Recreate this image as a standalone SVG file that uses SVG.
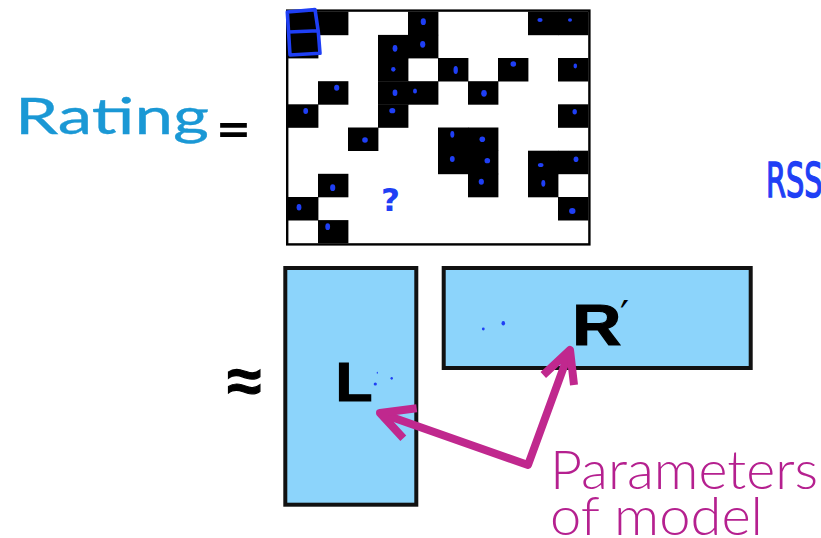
<svg xmlns="http://www.w3.org/2000/svg" width="821" height="538" viewBox="0 0 821 538">
  <style>
    .cell { fill: #000; }
    .pen { fill: #1f3ff5; }
    .penline { fill: none; stroke: #1f3ff5; stroke-width: 3.6; stroke-linecap: round; stroke-linejoin: round; }
    .factor { fill: #8cd4fb; stroke: #111; stroke-width: 4; }
    .arrow { fill: none; stroke: #c0288e; stroke-width: 8; stroke-linejoin: round; stroke-linecap: butt; }
    .sym { font-family: "Liberation Sans", Arial, sans-serif; font-weight: bold; fill: #000; }
    .heavy { stroke: #000; stroke-width: 1.2; }
    .label { font-family: Lato, "Open Sans", sans-serif; }
  </style>
  <rect width="821" height="538" fill="#fff"/>

  <!-- left-hand side label -->
  <g id="rating-label">
    <text class="label" x="15" y="133.5" font-size="50" fill="#1a98d5" stroke="#1a98d5" stroke-width="0.35" textLength="194" lengthAdjust="spacingAndGlyphs">Rating</text>
    <text class="label" x="216" y="147" font-size="52" font-weight="bold" fill="#000" textLength="35" lengthAdjust="spacingAndGlyphs">=</text>
  </g>

  <!-- sparse rating matrix -->
  <g id="rating-matrix">
    <rect x="287.2" y="10.6" width="302.2" height="233.8" fill="#fff"/>
    <!-- row 0 -->
    <rect class="cell" x="288" y="11.7" width="30.4" height="23.5"/>
    <rect class="cell" x="318" y="11.7" width="30.4" height="23.5"/>
    <rect class="cell" x="408" y="11.7" width="30.4" height="23.5"/>
    <rect class="cell" x="528" y="11.7" width="30.4" height="23.5"/>
    <rect class="cell" x="558" y="11.7" width="30.4" height="23.5"/>
    <!-- row 1 -->
    <rect class="cell" x="288" y="34.9" width="30.4" height="23.5"/>
    <rect class="cell" x="378" y="34.9" width="30.4" height="23.5"/>
    <rect class="cell" x="408" y="34.9" width="30.4" height="23.5"/>
    <!-- row 2 -->
    <rect class="cell" x="378" y="58" width="30.4" height="23.5"/>
    <rect class="cell" x="438" y="58" width="30.4" height="23.5"/>
    <rect class="cell" x="498" y="58" width="30.4" height="23.5"/>
    <rect class="cell" x="558" y="58" width="30.4" height="23.5"/>
    <!-- row 3 -->
    <rect class="cell" x="318" y="81.2" width="30.4" height="23.5"/>
    <rect class="cell" x="378" y="81.2" width="30.4" height="23.5"/>
    <rect class="cell" x="408" y="81.2" width="30.4" height="23.5"/>
    <rect class="cell" x="468" y="81.2" width="30.4" height="23.5"/>
    <!-- row 4 -->
    <rect class="cell" x="288" y="104.3" width="30.4" height="23.5"/>
    <rect class="cell" x="378" y="104.3" width="30.4" height="23.5"/>
    <rect class="cell" x="558" y="104.3" width="30.4" height="23.5"/>
    <!-- row 5 -->
    <rect class="cell" x="348" y="127.5" width="30.4" height="23.5"/>
    <rect class="cell" x="438" y="127.5" width="30.4" height="23.5"/>
    <rect class="cell" x="468" y="127.5" width="30.4" height="23.5"/>
    <!-- row 6 -->
    <rect class="cell" x="438" y="150.7" width="30.4" height="23.5"/>
    <rect class="cell" x="468" y="150.7" width="30.4" height="23.5"/>
    <rect class="cell" x="528" y="150.7" width="30.4" height="23.5"/>
    <rect class="cell" x="558" y="150.7" width="30.4" height="23.5"/>
    <!-- row 7 -->
    <rect class="cell" x="318" y="173.8" width="30.4" height="23.5"/>
    <rect class="cell" x="468" y="173.8" width="30.4" height="23.5"/>
    <rect class="cell" x="528" y="173.8" width="30.4" height="23.5"/>
    <!-- row 8 -->
    <rect class="cell" x="288" y="197" width="30.4" height="23.5"/>
    <rect class="cell" x="558" y="197" width="30.4" height="23.5"/>
    <!-- row 9 -->
    <rect class="cell" x="318" y="220.1" width="30.4" height="23.2"/>
    <rect x="287.2" y="10.6" width="302.2" height="233.8" fill="none" stroke="#000" stroke-width="2.4"/>
  </g>

  <!-- pen annotations on the matrix -->
  <g id="matrix-ink">
    <path class="penline" d="M287.3 12 L315 9.6 L318.3 31.7 L320 53.3 L290 55 L287.3 12 M288.5 32 L318.3 30.7"/>
    <ellipse class="pen" cx="423.3" cy="21.7" rx="2.6" ry="3.4"/>
    <ellipse class="pen" cx="540" cy="20" rx="2.6" ry="2"/>
    <ellipse class="pen" cx="570" cy="20" rx="2" ry="1.8"/>
    <ellipse class="pen" cx="395" cy="48.3" rx="2.4" ry="3.4"/>
    <ellipse class="pen" cx="422.7" cy="44.3" rx="2.6" ry="3.4"/>
    <ellipse class="pen" cx="393.3" cy="69.3" rx="2.2" ry="2.4"/>
    <ellipse class="pen" cx="455.7" cy="70" rx="2.2" ry="4"/>
    <ellipse class="pen" cx="513.3" cy="64" rx="2.8" ry="2.8"/>
    <ellipse class="pen" cx="575.3" cy="66" rx="1.8" ry="2.4"/>
    <ellipse class="pen" cx="336.7" cy="87.7" rx="2.6" ry="3"/>
    <ellipse class="pen" cx="395" cy="92.7" rx="2.4" ry="3.2"/>
    <ellipse class="pen" cx="415" cy="91" rx="2" ry="2.6"/>
    <ellipse class="pen" cx="484" cy="93.3" rx="2.8" ry="3.4"/>
    <ellipse class="pen" cx="305.7" cy="111" rx="2.4" ry="3"/>
    <ellipse class="pen" cx="392.3" cy="110.7" rx="3" ry="2.6"/>
    <ellipse class="pen" cx="574.7" cy="111.7" rx="2.2" ry="2.8"/>
    <ellipse class="pen" cx="365" cy="140" rx="2.8" ry="2.8"/>
    <ellipse class="pen" cx="452.3" cy="134.3" rx="2" ry="3.4"/>
    <ellipse class="pen" cx="482.3" cy="139.3" rx="2.8" ry="2.8"/>
    <ellipse class="pen" cx="452.3" cy="159" rx="2.4" ry="3"/>
    <ellipse class="pen" cx="487.3" cy="160.7" rx="2.8" ry="2.6"/>
    <ellipse class="pen" cx="540.7" cy="165" rx="2.8" ry="2"/>
    <ellipse class="pen" cx="576" cy="159.3" rx="2.4" ry="2.8"/>
    <ellipse class="pen" cx="332.7" cy="187.7" rx="2.6" ry="3.4"/>
    <ellipse class="pen" cx="481.3" cy="181.7" rx="2.6" ry="3"/>
    <ellipse class="pen" cx="543.3" cy="183.3" rx="2" ry="3.4"/>
    <ellipse class="pen" cx="299" cy="207.3" rx="2.4" ry="3.2"/>
    <ellipse class="pen" cx="572.3" cy="211" rx="3.2" ry="3"/>
    <ellipse class="pen" cx="327.7" cy="226.7" rx="2.4" ry="3.4"/>
    <text x="381" y="211" font-family="DejaVu Sans, sans-serif" font-weight="bold" font-size="32" fill="#1f3ff5" textLength="19" lengthAdjust="spacingAndGlyphs">?</text>
  </g>

  <!-- side note, runs off the right edge -->
  <g id="rss-note">
    <text transform="translate(766 197) scale(0.6 1)" font-family="DejaVu Sans, sans-serif" font-size="48" fill="#1f3ff5" stroke="#1f3ff5" stroke-width="1.6">RSS</text>
  </g>

  <!-- approximately equal -->
  <g id="approx">
    <text class="sym heavy" x="244" y="402" font-size="62" text-anchor="middle">≈</text>
  </g>

  <!-- left factor L -->
  <g id="factor-L">
    <rect class="factor" x="285.3" y="268" width="131" height="236.7"/>
    <text class="sym heavy" x="335.5" y="401.2" font-size="56" textLength="37" lengthAdjust="spacingAndGlyphs">L</text>
    <ellipse class="pen" cx="375.3" cy="384" rx="1.6" ry="1.6"/>
    <ellipse class="pen" cx="391.7" cy="378.3" rx="1.2" ry="1.4"/>
    <ellipse class="pen" cx="377.3" cy="372.7" rx="0.6" ry="1"/>
  </g>

  <!-- right factor R' -->
  <g id="factor-R">
    <rect class="factor" x="443.7" y="268" width="307" height="100"/>
    <text class="sym heavy" x="572.2" y="344.5" font-size="58" textLength="49" lengthAdjust="spacingAndGlyphs">R</text>
    <text x="620" y="330" font-family="DejaVu Sans, sans-serif" font-size="40" fill="#000">′</text>
    <ellipse class="pen" cx="483.3" cy="329" rx="1.4" ry="1.4"/>
    <ellipse class="pen" cx="503.3" cy="323.3" rx="1.8" ry="2.2"/>
  </g>

  <!-- arrows from the caption to both factors -->
  <g id="connectors">
    <polyline class="arrow" points="380,413 528,465 570,350"/>
    <polyline class="arrow" points="416.7,408.3 380,413 403.3,438.3"/>
    <polyline class="arrow" points="543.3,375 570,350 574,385"/>
  </g>

  <!-- caption -->
  <g id="caption">
    <text class="label" font-size="53" font-weight="300" fill="#b5208f">
      <tspan x="550" y="488.5" textLength="268" lengthAdjust="spacingAndGlyphs">Parameters</tspan>
      <tspan x="550" y="535" textLength="213" lengthAdjust="spacingAndGlyphs">of model</tspan>
    </text>
  </g>
</svg>
